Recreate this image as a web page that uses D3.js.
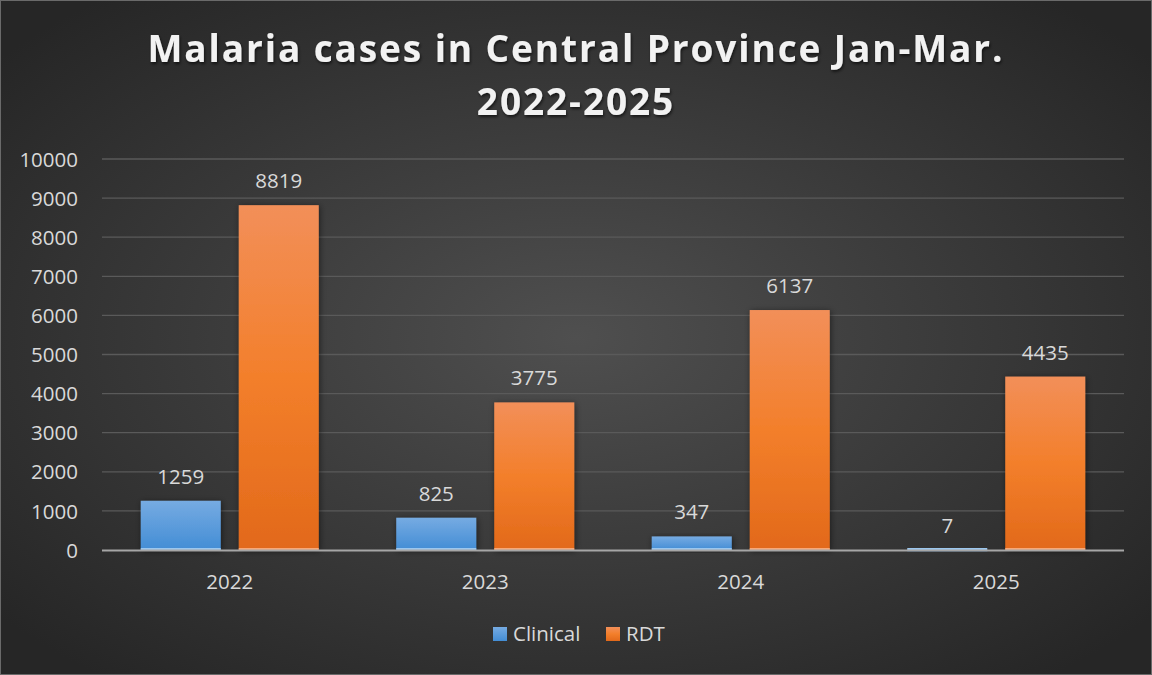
<!DOCTYPE html>
<html><head><meta charset="utf-8">
<script src="https://cdn.jsdelivr.net/npm/d3@7"></script>
<style>html,body{margin:0;padding:0;background:#333;}svg{display:block;}</style>
</head><body>
<svg id="c" width="1152" height="675"></svg>
<script>
const categories = ["2022","2023","2024","2025"];
const seriesNames = ["Clinical","RDT"];
const clinical = [1259, 825, 347, 7];
const rdt = [8819, 3775, 6137, 4435];
const yTicks = [0,1000,2000,3000,4000,5000,6000,7000,8000,9000,10000];
const titleLines = ["Malaria cases in Central Province Jan-Mar.","2022-2025"];

(function(){
const W = 1152, H = 675;
const FS = "20.5px";
const svg = d3.select("#c");
const defs = svg.append("defs");
const bg = defs.append("radialGradient").attr("id","bg").attr("cx","50%").attr("cy","50%").attr("r","65%");
bg.append("stop").attr("offset","0%").attr("stop-color","#4f4f4f");
bg.append("stop").attr("offset","100%").attr("stop-color","#262626");
const gb = defs.append("linearGradient").attr("id","gBlue").attr("x1",0).attr("y1",0).attr("x2",0).attr("y2",1);
gb.append("stop").attr("offset","0%").attr("stop-color","#76abe2");
gb.append("stop").attr("offset","100%").attr("stop-color","#438dd5");
const go = defs.append("linearGradient").attr("id","gOrange").attr("x1",0).attr("y1",0).attr("x2",0).attr("y2",1);
go.append("stop").attr("offset","0%").attr("stop-color","#f28f59");
go.append("stop").attr("offset","50%").attr("stop-color","#f37f2b");
go.append("stop").attr("offset","100%").attr("stop-color","#e2691a");
const sh = defs.append("filter").attr("id","shadow").attr("x","-20%").attr("y","-20%").attr("width","140%").attr("height","140%");
sh.append("feDropShadow").attr("dx",1).attr("dy",1).attr("stdDeviation",3).attr("flood-color","#000").attr("flood-opacity",0.5);
const tsh = defs.append("filter").attr("id","tshadow");
tsh.append("feDropShadow").attr("dx",1).attr("dy",2).attr("stdDeviation",1.5).attr("flood-color","#000").attr("flood-opacity",0.6);

svg.append("rect").attr("x",0).attr("y",0).attr("width",W).attr("height",H).attr("fill","url(#bg)");
svg.append("rect").attr("x",0.5).attr("y",0.5).attr("width",W-1).attr("height",H-1).attr("fill","none").attr("stroke","#6a6a6a").attr("stroke-width",1);

const pl = 102, pr = 1124, pt = 159, pb = 550;
const x0 = d3.scaleBand().domain(categories).range([pl,pr]).paddingInner(0).paddingOuter(0);
const x1 = d3.scaleBand().domain(seriesNames).range([38.75, x0.bandwidth()-38.75]).paddingInner(18/98).paddingOuter(0);
const y = d3.scaleLinear().domain([0,10000]).range([pb, pt]);

svg.append("g").selectAll("line").data(yTicks.filter(d=>d>0)).join("line")
  .attr("x1",pl).attr("x2",pr).attr("y1",d=>y(d)).attr("y2",d=>y(d))
  .attr("stroke","#5a5a5a").attr("stroke-width",1.3);

const yAxis = d3.axisLeft(y).tickValues(yTicks).tickSize(0).tickPadding(0).tickFormat(d3.format("d"));
const ga = svg.append("g").attr("transform",`translate(${pl-24},0)`).call(yAxis);
ga.select(".domain").remove();
ga.selectAll("text").attr("fill","#d9d9d9").style("font-family","'Open Sans', sans-serif").style("font-size",FS).attr("dy","0.35em");

const data = categories.map((c,i)=>({cat:c, vals:[{s:"Clinical",v:clinical[i]},{s:"RDT",v:rdt[i]}]}));
const fills = {Clinical:"url(#gBlue)", RDT:"url(#gOrange)"};
const groups = svg.append("g").selectAll("g").data(data).join("g").attr("transform",d=>`translate(${x0(d.cat)},0)`);
groups.selectAll("rect.bar").data(d=>d.vals).join("rect").attr("class","bar")
  .attr("x",d=>x1(d.s)).attr("width",x1.bandwidth())
  .attr("y",d=>y(d.v)).attr("height",d=>Math.max(1.5,pb-y(d.v)))
  .attr("fill",d=>fills[d.s]).attr("filter","url(#shadow)");
groups.selectAll("rect.glow").data(d=>d.vals).join("rect").attr("class","glow")
  .attr("x",d=>x1(d.s)).attr("width",x1.bandwidth())
  .attr("y",pb-2).attr("height",2)
  .attr("fill",d=>d.s==="Clinical"?"#9cc7ee":"#f7a878");
groups.selectAll("text.val").data(d=>d.vals).join("text").attr("class","val")
  .attr("x",d=>x1(d.s)+x1.bandwidth()/2).attr("y",d=>y(d.v)-17)
  .attr("text-anchor","middle").attr("fill","#d9d9d9")
  .style("font-family","'Open Sans', sans-serif").style("font-size",FS)
  .text(d=>d.v);

svg.append("line").attr("x1",pl).attr("x2",pr).attr("y1",pb+0.5).attr("y2",pb+0.5).attr("stroke","#a6a6a6").attr("stroke-width",2);

const xAxis = d3.axisBottom(x0).tickSize(0).tickPadding(0);
const gx = svg.append("g").attr("transform",`translate(0,${pb+32})`).call(xAxis);
gx.select(".domain").remove();
gx.selectAll("text").attr("fill","#d9d9d9").attr("dy","0.35em").style("font-family","'Open Sans', sans-serif").style("font-size",FS);

const tt = svg.append("text").attr("text-anchor","middle").attr("fill","#f2f2f2")
  .style("font-family","'Open Sans', sans-serif").style("font-weight","bold").style("font-size","37px")
  .style("letter-spacing","1.9px").attr("filter","url(#tshadow)");
tt.selectAll("tspan").data(titleLines).join("tspan").attr("x",576).attr("y",(d,i)=>62+i*53).text(d=>d);

const legendX = [493, 606];
const lg = svg.append("g").selectAll("g").data(seriesNames).join("g").attr("transform",(d,i)=>`translate(${legendX[i]},634)`);
lg.append("rect").attr("x",0).attr("y",-7).attr("width",14).attr("height",14).attr("fill",d=>fills[d]);
lg.append("text").attr("x",20).attr("y",0).attr("dy","0.35em").attr("fill","#d9d9d9")
  .style("font-family","'Open Sans', sans-serif").style("font-size",FS).text(d=>d);
})();
</script>
</body></html>
